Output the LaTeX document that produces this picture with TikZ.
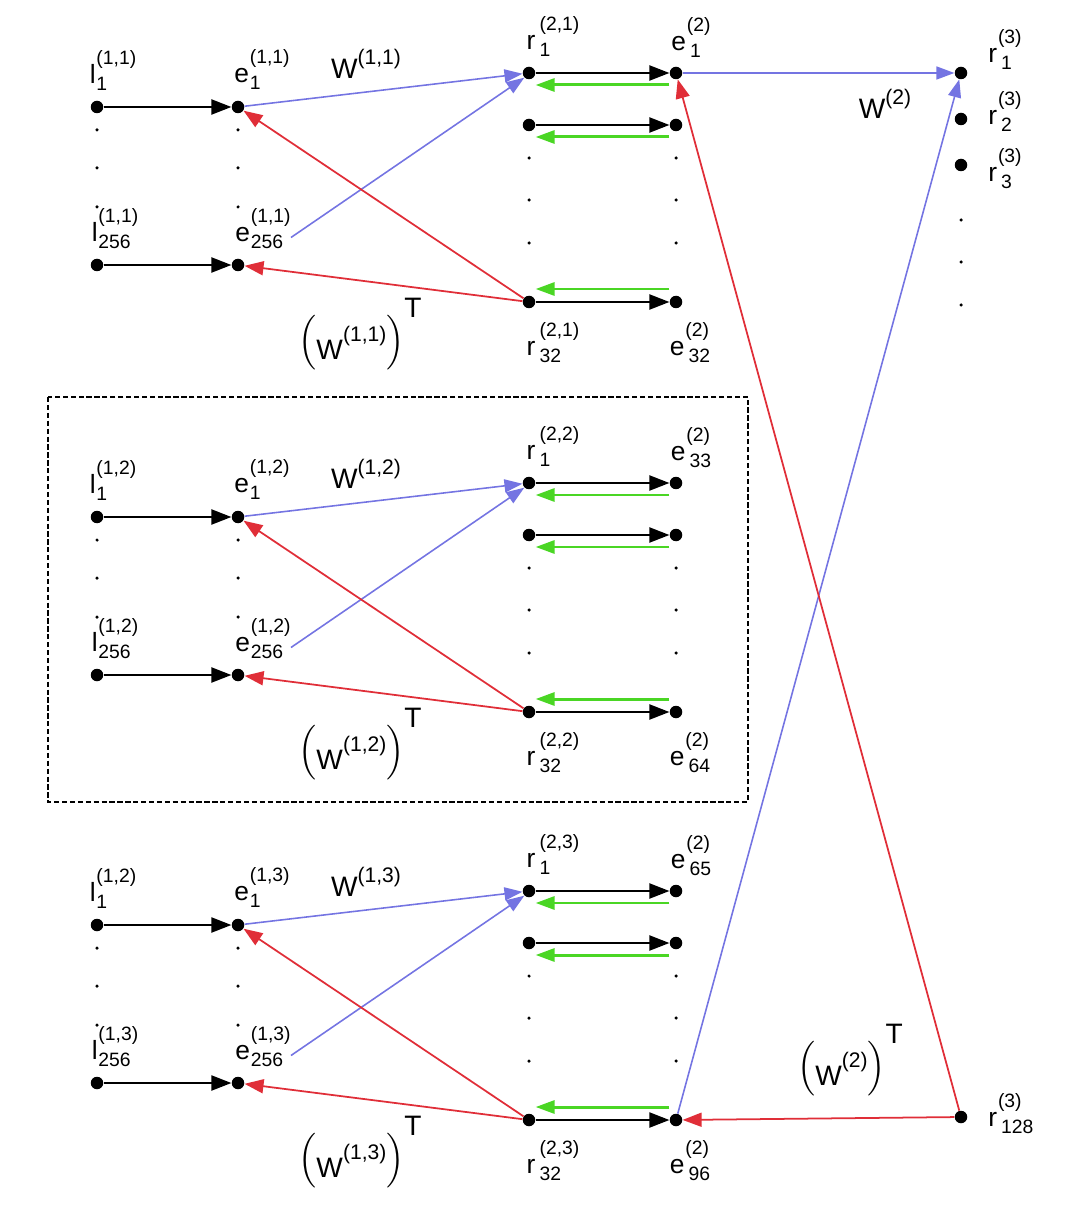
\documentclass[tikz,border=0pt]{standalone}
\usepackage{amsmath}
\usepackage{fontspec}
\setmainfont{Liberation Sans}
\usepackage{tikz}
\usetikzlibrary{
  arrows.meta,
  calc,
  positioning
}
\definecolor{wblue}{RGB}{116,116,226}
\definecolor{tred}{RGB}{224,46,56}
\definecolor{bgreen}{RGB}{74,214,36}
\tikzset{
  unit/.style={circle,fill=black,inner sep=0pt,minimum size=2.5mm},
  lab/.style={inner sep=0pt,font=\fontsize{15}{17}\selectfont},
  wlab/.style={inner sep=0pt,font=\fontsize{16}{18}\selectfont},
  fwd/.style={-{Triangle[length=4mm,width=3mm]},line width=1.2pt,draw=black},
  back/.style={-{Triangle[length=3.8mm,width=2.6mm]},line width=1.7pt,draw=bgreen},
  wflow/.style={-{Triangle[length=3.6mm,width=2.6mm]},line width=0.9pt,draw=wblue},
  tflow/.style={-{Triangle[length=3.8mm,width=2.8mm]},line width=1pt,draw=tred},
  groupbox/.style={draw=black,line width=0.9pt,dash pattern=on 3pt off 1.5pt}
}
% letter with stacked superscript and subscript
\newcommand{\ix}[3]{#1\kern0.5pt\raisebox{-4pt}{\fontsize{11}{15}\selectfont
  \begin{tabular}[b]{@{}l@{}}#2\\#3\end{tabular}}}
% weight matrix, plain and transposed
\newcommand{\wm}[1]{W\raisebox{8pt}{\fontsize{12}{12}\selectfont#1}}
\newcommand{\wmt}[1]{$\Bigl(\raisebox{-5pt}{W}\raisebox{5pt}{\fontsize{12}{12}\selectfont#1}\Bigr)$\raisebox{19pt}{T}}

\begin{document}
\begin{tikzpicture}[x=0.02cm,y=-0.02cm]
  \useasboundingbox (0,0) rectangle (1080,1212);
  \draw[groupbox] (48,397) rectangle (748,802);
  % three first-layer groups
  \foreach \b/\o/\la/\sa/\sb in {1/0/1/1/32, 2/410/2/33/64, 3/818/2/65/96}{
    \node[unit] (l1-\b) at (97,107+\o) {};
    \node[unit] (e1-\b) at (238,107+\o) {};
    \node[unit] (l256-\b) at (97,265+\o) {};
    \node[unit] (e256-\b) at (238,265+\o) {};
    \node[unit] (r1-\b) at (529,73+\o) {};
    \node[unit] (r2-\b) at (529,125+\o) {};
    \node[unit] (r32-\b) at (529,302+\o) {};
    \node[unit] (s1-\b) at (676,73+\o) {};
    \node[unit] (s2-\b) at (676,125+\o) {};
    \node[unit] (s32-\b) at (676,302+\o) {};
    \foreach \d in {23,61,100}{
      \fill (97,107+\o+\d) circle (0.35mm);
      \fill (238,107+\o+\d) circle (0.35mm);
    }
    \foreach \d in {85,127,170}{
      \fill (529,73+\o+\d) circle (0.35mm);
      \fill (676,73+\o+\d) circle (0.35mm);
    }
    \node[lab] (ll1-\b) at ([shift={(16,-35)}]l1-\b) {\ix{l}{(1,\la)}{1}};
    \node[lab] (le1-\b) at ([shift={(24,-36)}]e1-\b) {\ix{e}{(1,\b)}{1}};
    \node[lab] (ll256-\b) at ([shift={(18,-35)}]l256-\b) {\ix{l}{(1,\b)}{256}};
    \node[lab] (le256-\b) at ([shift={(25,-35)}]e256-\b) {\ix{e}{(1,\b)}{256}};
    \node[lab] (lr1-\b) at ([shift={(24,-35)}]r1-\b) {\ix{r}{\,(2,\b)}{\,1}};
    \node[lab] (lr32-\b) at ([shift={(24,42)}]r32-\b) {\ix{r}{\,(2,\b)}{\,32}};
    \node[lab] (ls1-\b) at ([shift={(15,-34)}]s1-\b) {\ix{e}{(2)}{\,\sa}};
    \node[lab] (ls32-\b) at ([shift={(14,42)}]s32-\b) {\ix{e}{(2)}{\,\sb}};
    \node[wlab] (w-\b) at (366,64+\o) {\wm{(1,\b)}};
    \node[wlab] (wt-\b) at (360,334+\o) {\wmt{(1,\b)}};
    \draw[fwd] (l1-\b) -- (e1-\b);
    \draw[fwd] (l256-\b) -- (e256-\b);
    \draw[fwd] (r1-\b) -- (s1-\b);
    \draw[fwd] (r2-\b) -- (s2-\b);
    \draw[fwd] (r32-\b) -- (s32-\b);
    \draw[back] ([yshift=-2.4mm]s1-\b.west) -- ([yshift=-2.4mm]r1-\b.east);
    \draw[back] ([yshift=-2.4mm]s2-\b.west) -- ([yshift=-2.4mm]r2-\b.east);
    \draw[back] ([yshift=2.6mm]s32-\b.west) -- ([yshift=2.6mm]r32-\b.east);
    \draw[wflow] (e1-\b) -- (r1-\b);
    \draw[wflow] ([yshift=-1.5mm]le256-\b.east) -- (r1-\b.south west);
    \draw[tflow] (r32-\b) -- (e1-\b);
    \draw[tflow] (r32-\b) -- (e256-\b);
  }
  % output layer
  \node[unit] (o1) at (961,73) {};
  \node[unit] (o2) at (961,119) {};
  \node[unit] (o3) at (961,165) {};
  \node[unit] (o128) at (961,1117) {};
  \foreach \d in {220,262,305}{
    \fill (961,\d) circle (0.35mm);
  }
  \node[lab,anchor=west] (lo1) at ([shift={(27,-22)}]o1) {\ix{r}{(3)}{\,1}};
  \node[lab,anchor=west] (lo2) at ([shift={(27,-6)}]o2) {\ix{r}{(3)}{\,2}};
  \node[lab,anchor=west] (lo3) at ([shift={(27,5)}]o3) {\ix{r}{(3)}{\,3}};
  \node[lab,anchor=west] (lo128) at ([shift={(27,-2)}]o128) {\ix{r}{(3)}{\,128}};
  \node[wlab] (w2) at (885,104) {\wm{(2)}};
  \node[wlab] (wt2) at (850,1060) {\wmt{(2)}};
  \draw[wflow] (s1-1) -- (o1);
  \draw[wflow] (s32-3) -- (o1);
  \draw[tflow] (o128) -- (s32-3);
  \draw[tflow] (o128) -- (s1-1);
\end{tikzpicture}
\end{document}
